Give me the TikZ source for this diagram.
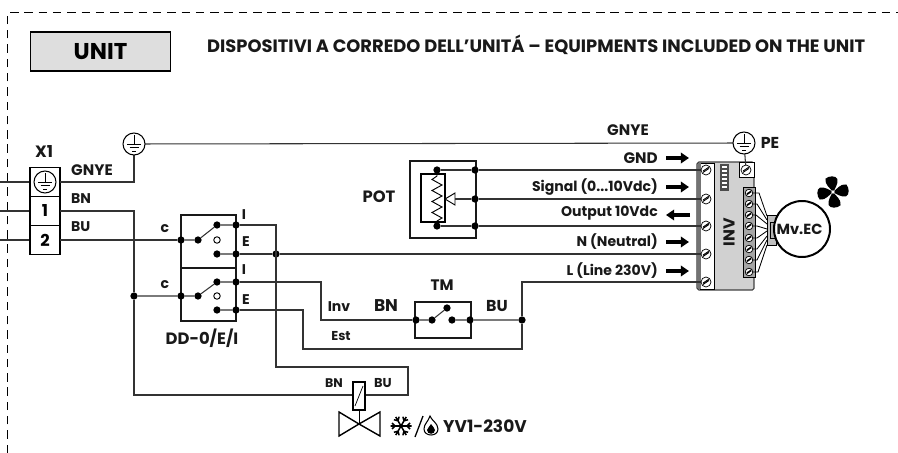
\documentclass[tikz,border=0pt]{standalone}
\usepackage{fontspec}
\setmainfont{Poppins}
\usetikzlibrary{arrows.meta}
\newcommand{\fsz}[1]{\fontsize{#1}{#1}\selectfont\bfseries}
\tikzset{
  wire/.style={line width=0.9pt,draw=black!80},
  heavy/.style={line width=1.8pt,draw=black!90},
  dot/.style={circle,fill=black,inner sep=0pt,minimum size=6.2pt},
  ndot/.style={circle,draw=black,fill=white,line width=0.8pt,inner sep=0pt,minimum size=5.5pt},
  lab/.style={font=\fsz{12},inner sep=0pt,text=black!90},
  flow/.style={line width=2.6pt,-{Triangle[length=7pt,width=9pt]},draw=black},
  tbox/.style={draw=black,line width=1.2pt,fill=white,minimum width=0.9cm,minimum height=0.87cm,inner sep=0pt,font=\fsz{14}},
  earth/.pic={
    \draw[line width=0.9pt,fill=white] (0,0) circle (11);
    \draw[line width=0.8pt] (0,-9)--(0,0) (-7,0)--(7,0) (-4.5,3.5)--(4.5,3.5) (-2,7)--(2,7);
  },
  screw/.pic={
    \draw[line width=0.6pt,fill=white] (0,0) circle (#1);
    \draw[line width=0.7pt] (-#1*0.6,#1*0.5)--(#1*0.6,-#1*0.3) (-#1*0.6,#1*0.2)--(#1*0.6,-#1*0.6);
  },
  screw/.default=5,
  blade/.pic={
    \fill[black] (0,0) .. controls (-2,-3) and (-9,-7) .. (-8,-13) .. controls (-5,-16) and (2,-17) .. (4,-13) .. controls (5,-9) and (2,-3) .. (0,0) -- cycle;
  }
}
\begin{document}
\begin{tikzpicture}[x=0.03cm,y=-0.03cm]
\useasboundingbox (0,0) rectangle (898,453);

% frame
\coordinate (fbl) at (7.5,453); \coordinate (ftl) at (7.5,12.5); \coordinate (ftr) at (898,12.5);
\draw[line width=1pt,dash pattern=on 7.2pt off 5pt] (fbl)--(ftl)--(ftr);

% header
\node[draw=black,line width=1.3pt,fill=black!13,minimum width=4.2cm,minimum height=1.16cm,inner sep=0pt,font=\fsz{19.5}] (unit) at (100.5,51.5) {UNIT};
\node[lab,anchor=west,font=\fsz{15.25}] (title) at (207,45) {DISPOSITIVI A CORREDO DELL’UNITÁ – EQUIPMENTS INCLUDED ON THE UNIT};

% named points
\coordinate (s1) at (0,182); \coordinate (s2) at (0,211); \coordinate (s3) at (0,240);
\coordinate (x1e) at (60,182); \coordinate (x11) at (60,211); \coordinate (x12) at (60,240);
\coordinate (ea) at (134,144); \coordinate (pe) at (744,143);
\coordinate (xl1) at (30,182); \coordinate (xl2) at (30,211); \coordinate (xl3) at (30,240);

% left stubs
\draw[wire] (s1)--(xl1) (s2)--(xl2) (s3)--(xl3);

% X1
\node[tbox] (t0) at (45,182) {};
\node[tbox] (t1) at (45,211) {1};
\node[tbox] (t2) at (45,240) {2};
\pic at (45,182) {earth};
\node[lab,font=\fsz{14}] (x1) at (44,152) {X1};
\node[lab,anchor=west,font=\fsz{13}] (l1) at (71,170) {GNYE};
\node[lab,anchor=west] (l2) at (71,198.5) {BN};
\node[lab,anchor=west] (l3) at (71,227) {BU};

% DD switches
\node[heavy,draw,minimum width=1.65cm,minimum height=1.59cm,inner sep=0pt] (dd1) at (208.5,241.5) {};
\node[heavy,draw,minimum width=1.65cm,minimum height=1.59cm,inner sep=0pt] (dd2) at (208.5,294.5) {};
\node[dot] (c1) at (181,240) {}; \node[dot] (p1) at (198,240) {};
\node[dot] (a1) at (217,225) {}; \node[ndot] (o1) at (217,240) {}; \node[dot] (b1) at (217,254) {};
\node[dot] (i1) at (236,225) {}; \node[dot] (e1) at (236,254) {};
\node[dot] (c2) at (181,296) {}; \node[dot] (p2) at (198,296) {};
\node[dot] (a2) at (217,282) {}; \node[ndot] (o2) at (217,296) {}; \node[dot] (b2) at (217,310) {};
\node[dot] (i2) at (236,282) {}; \node[dot] (e2) at (236,310) {};
\node[dot] (j1) at (134,296) {};
\node[dot] (j2) at (276,254) {};
\node[lab] (lc1) at (165,229) {c}; \node[lab] (lc2) at (165,285) {c};
\node[lab] (li1) at (244,215) {I}; \node[lab] (le1) at (246,242) {E};
\node[lab] (li2) at (244,270) {I}; \node[lab] (le2) at (246,300) {E};
\node[lab,font=\fsz{14}] (ddl) at (202,338) {DD-0/E/I};
\draw[wire] (c1)--(p1)--(a1)--(i1) (b1)--(e1) (c2)--(p2)--(a2)--(i2) (b2)--(e2) (j1)--(c2);

% GNYE line
\draw[wire] (x1e)-|(ea);
\draw[wire] (ea)--(pe);
\pic at (ea) {earth};

% BN / BU
\coordinate (vl) at (134,395); \coordinate (vr) at (408,395); \coordinate (vt) at (408,367); \coordinate (vi) at (276,367);
\draw[wire] (x11)-|(j1);
\draw[wire] (j1)--(vl)--(vr)--(vt)--(vi)--(276,225)--(i1);
\draw[wire] (x12)--(c1);

% TM
\node[heavy,draw,minimum width=1.67cm,minimum height=1.08cm,inner sep=0pt] (tm) at (443,320) {};
\node[dot] (tl) at (416,320) {}; \node[dot] (tr) at (470,320) {};
\node[dot] (ta) at (432,320) {}; \node[dot] (tb) at (447,308) {}; \node[dot] (tc) at (452,320) {};
\node[dot] (tj) at (522,320) {};
\draw[wire] (tl)--(ta)--(tb) (tc)--(tr)--(tj);
\draw[wire] (i2)-|(321,320)--(tl);
\draw[wire] (e2)-|(303,349)--(522,349)--(tj);
\node[lab,font=\fsz{13}] (ltm) at (442,285) {TM}; \node[lab,font=\fsz{14.5}] (lbn) at (386,306) {BN};
\node[lab,font=\fsz{13.5}] (lbu) at (497,306) {BU};
\node[lab] (linv) at (339,307) {Inv}; \node[lab,font=\fsz{11}] (lest) at (341,336) {Est};

% POT
\node[heavy,draw,minimum width=1.98cm,minimum height=2.31cm,inner sep=0pt] (pot) at (443,199.5) {};
\node[draw=black,line width=0.9pt,minimum width=0.72cm,minimum height=1.44cm,inner sep=0pt] (rr) at (433,198) {};
\node[dot] (r1) at (437,170) {}; \node[dot] (r2) at (437,226) {};
\node[dot] (q1) at (475,170) {}; \node[dot] (q2) at (475,199) {}; \node[dot] (q3) at (475,226) {};
\draw[line width=0.8pt] (r1)--(437,176)--(432,179.5)--(442,185)--(432,190.5)--(442,196)--(432,201.5)--(442,207)--(432,212.5)--(442,218)--(437,221)--(r2);
\draw[line width=0.8pt,fill=white] (445,199)--(455,193)--(455,205)--cycle;
\draw[wire] (455,199)--(q2);
\draw[wire] (r1)--(q1) (r2)--(q3);
\node[lab,font=\fsz{14}] (lpot) at (379,197) {POT};

% INV
\coordinate (w1) at (706,170); \coordinate (w2) at (706,199); \coordinate (w3) at (706,226); \coordinate (w4) at (706,254); \coordinate (w5) at (706,282);
\fill[black!18] (697,162) rectangle (754,290);
\draw[line width=0.9pt,draw=black!75,rounded corners=1.5pt] (697,162) rectangle (754,290);
\draw[line width=0.8pt,fill=white] (700.5,163) rectangle (714,289);
\fill[black!55] (697.5,163) rectangle (700.5,289);
\draw[line width=0.8pt,fill=white] (739,162) rectangle (754,177);
\fill[black!70] (720,164) rectangle (729,191);
\foreach \yy in {167,171,175,179,183,187} \fill[white] (722,\yy-1.3) rectangle (727,\yy+1.3);
\draw[wire] (q1)--(w1) (q2)--(w2) (q3)--(w3) (j2)--(w4) (e1)--(j2);
\draw[wire] (tj)--(522,282)--(w5);
\foreach \p in {w1,w2,w3,w4,w5} \pic at (\p) {screw=5};
\draw[wire] (pe)--(746,170);
\pic at (pe) {earth};
\pic at (746,170) {screw=5};
\node[lab,font=\fsz{13.5}] (lpe) at (770,143) {PE};
\node[lab,font=\fsz{13.5},rotate=90] (linvv) at (729,232) {INV};

% motor terminals
\draw[line width=0.6pt,fill=black!35] (743,187.5) rectangle (755,277);
\draw[line width=0.5pt,fill=black!25] (767,215) rectangle (776,245);
\draw[line width=0.5pt,fill=white!70!black] (770,222) rectangle (776,238);
\foreach \i/\yy/\xb/\ye in {1/193/759/216,2/204/757/220,3/215/756/224,4/226/757/229,5/238/757/231,6/249/757/236,7/260/757/240,8/272/758/245}{
  \draw[line width=0.7pt] (749,\yy)--(\xb,\yy)--(767,\ye);
  \pic at (749,\yy) {screw=3.8};
}
\node[draw=black,line width=1.7pt,fill=white,circle,minimum size=1.68cm,inner sep=0pt] (mot) at (802,229) {};
\node[lab,font=\fsz{12.5}] (motl) at (799.5,229) {Mv.EC};

% fan
\begin{scope}[shift={(833,192)}]
\pic[rotate=-2] {blade}; \pic[rotate=88] {blade}; \pic[rotate=178] {blade}; \pic[rotate=268] {blade};
\fill[white] (0,0) circle (1.8);
\end{scope}

% flow arrows + labels
\node[lab,anchor=east,font=\fsz{13}] (fa) at (658,158) {GND};
\coordinate (fsa) at (666,158); \coordinate (fea) at (689,158); \draw[flow] (fsa)--(fea);
\node[lab,anchor=east] (fb) at (658,187) {Signal (0...10Vdc)};
\coordinate (fsb) at (666,187); \coordinate (feb) at (689,187); \draw[flow] (fsb)--(feb);
\node[lab,anchor=east] (fc) at (658,213) {Output 10Vdc};
\coordinate (fsc) at (690,215); \coordinate (fec) at (666,215); \draw[flow] (fsc)--(fec);
\node[lab,anchor=east] (fd) at (658,242) {N (Neutral)};
\coordinate (fsd) at (666,242); \coordinate (fed) at (689,242); \draw[flow] (fsd)--(fed);
\node[lab,anchor=east] (fe) at (658,271) {L (Line 230V)};
\coordinate (fse) at (666,271); \coordinate (fee) at (689,271); \draw[flow] (fse)--(fee);
\node[lab,font=\fsz{13}] (gn2) at (628,130) {GNYE};

% valve
\node[draw=black,line width=1pt,fill=white,minimum width=0.36cm,minimum height=0.84cm,inner sep=0pt] (coil) at (359,396) {};
\draw[line width=0.6pt] (355,406)--(363,386);
\coordinate (vc) at (359,424);
\draw[line width=0.8pt] (coil.south)--(vc);
\draw[line width=1.2pt] (vc)--(339,412)--(339,436)--cycle;
\draw[line width=1.2pt] (vc)--(380,412)--(380,436)--cycle;
\node[lab,font=\fsz{10.7}] (vbn) at (334,383) {BN};
\node[lab,font=\fsz{11}] (vbu) at (383,383) {BU};
\node[lab,anchor=west,font=\fsz{14.5}] (yv) at (443,426) {YV1-230V};
% snowflake
\begin{scope}[shift={(401,426)}]
\foreach \a in {0,60,120,180,240,300}{
  \draw[line width=1.3pt,rotate=\a] (0,0)--(10.5,0) (6,0)--(9,-3) (6,0)--(9,3);
}
\end{scope}
\draw[line width=1.1pt] (415,437)--(423,416);
% flame
\draw[line width=0.9pt] (430,416) .. controls (431,420) and (438,423) .. (438,429) .. controls (438,437) and (424,437) .. (424,429) .. controls (424,424) and (428,422) .. (430,416) -- cycle;
\fill (431,424) .. controls (432,426) and (435,428) .. (435,430) .. controls (435,435) and (427,435) .. (427,430) .. controls (427,428) and (430,427) .. (431,424) -- cycle;
\end{tikzpicture}
\end{document}
